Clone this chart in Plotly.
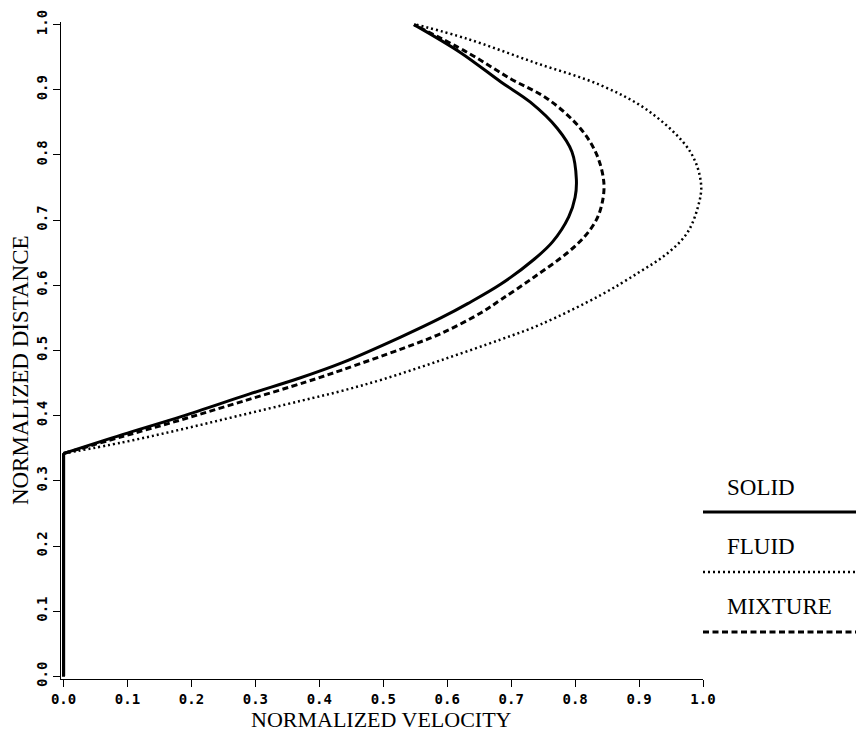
import plotly.graph_objects as go

# ---- data ----
solid_x = [0.0, 0.0, 0.092, 0.185, 0.29, 0.367, 0.435, 0.528, 0.590, 0.632, 0.684,
           0.736, 0.765, 0.790, 0.800, 0.802, 0.795, 0.772, 0.730, 0.684, 0.621, 0.548]
solid_y = [0.0, 0.342, 0.371, 0.399, 0.433, 0.457, 0.481, 0.521, 0.550, 0.572, 0.602,
           0.640, 0.667, 0.705, 0.735, 0.762, 0.805, 0.841, 0.881, 0.912, 0.957, 1.0]

mixture_x = [0.0, 0.0, 0.092, 0.185, 0.28, 0.38, 0.435, 0.530, 0.590, 0.653, 0.684,
             0.735, 0.788, 0.815, 0.833, 0.842, 0.845, 0.834, 0.808, 0.757, 0.699, 0.632, 0.548]
mixture_y = [0.0, 0.342, 0.368, 0.394, 0.422, 0.452, 0.470, 0.503, 0.526, 0.558, 0.578,
             0.612, 0.650, 0.675, 0.700, 0.725, 0.757, 0.800, 0.841, 0.886, 0.917, 0.957, 1.0]

fluid_x = [0.0, 0.0, 0.092, 0.180, 0.270, 0.372, 0.435, 0.500, 0.590, 0.684, 0.746,
           0.840, 0.900, 0.943, 0.975, 0.992, 0.997, 0.980, 0.917, 0.840, 0.736, 0.632, 0.552]
fluid_y = [0.0, 0.342, 0.359, 0.378, 0.399, 0.423, 0.438, 0.456, 0.485, 0.517, 0.540,
           0.585, 0.620, 0.648, 0.680, 0.720, 0.755, 0.805, 0.866, 0.907, 0.942, 0.978, 1.0]

tick_vals = [0.0, 0.1, 0.2, 0.3, 0.4, 0.5, 0.6, 0.7, 0.8, 0.9, 1.0]
tick_text = ["0.0", "0.1", "0.2", "0.3", "0.4", "0.5", "0.6", "0.7", "0.8", "0.9", "1.0"]

legend_names = ["SOLID", "FLUID", "MIXTURE"]
legend_dashes = ["solid", "2px,3px", "6px,3.5px"]
legend_widths = [3, 2.5, 3]

serif = "Liberation Serif"
tickfont = dict(family="DejaVu Sans Mono", size=14, color="black", weight="bold")

series = [
    ("FLUID", fluid_x, fluid_y, 2.5, "2px,3px"),
    ("MIXTURE", mixture_x, mixture_y, 3, "6px,3.5px"),
    ("SOLID", solid_x, solid_y, 3, "solid"),
]

fig = go.Figure()
for name, xs, ys, w, dash in series:
    # straight part along the wall (up to the corner point, index 1)
    fig.add_trace(go.Scatter(x=xs[:2], y=ys[:2], mode="lines", name=name,
                             line=dict(color="black", width=3)))
    # curved profile from the corner onwards
    fig.add_trace(go.Scatter(x=xs[1:], y=ys[1:], mode="lines", name=name,
                             line=dict(color="black", width=w, dash=dash,
                                       shape="spline", smoothing=1.0)))

# custom legend at right
line_y = [0.254, 0.163, 0.0715]
text_y = [0.292, 0.201, 0.111]
for name, dash, w, ly, ty in zip(legend_names, legend_dashes, legend_widths, line_y, text_y):
    fig.add_shape(type="line", xref="paper", yref="paper", x0=1.0, x1=1.24, y0=ly, y1=ly,
                  line=dict(color="black", width=w, dash=dash))
    fig.add_annotation(xref="paper", yref="paper", x=1.034, y=ty, text=name,
                       showarrow=False, xanchor="left", yanchor="middle",
                       font=dict(family=serif, size=23, color="black"))

# axis titles
fig.add_annotation(xref="paper", yref="paper", x=0.499, y=-0.0609, text="NORMALIZED VELOCITY",
                   showarrow=False, xanchor="center", yanchor="middle",
                   font=dict(family=serif, size=22, color="black"))
fig.add_annotation(xref="paper", yref="paper", x=-0.064, y=0.47, text="NORMALIZED DISTANCE",
                   showarrow=False, xanchor="center", yanchor="middle", textangle=-90,
                   font=dict(family=serif, size=23, color="black"))

axis_common = dict(showgrid=False, zeroline=False, showline=True, linecolor="black",
                   linewidth=1, ticks="outside", ticklen=7, tickwidth=1, tickcolor="black",
                   tickvals=tick_vals, ticktext=tick_text, tickfont=tickfont,
                   automargin=False)

fig.update_layout(
    width=856, height=740,
    margin=dict(l=61, r=153, t=22, b=61, pad=0),
    paper_bgcolor="white", plot_bgcolor="white",
    showlegend=False,
    xaxis=dict(range=[-0.004, 1.0], **axis_common),
    yaxis=dict(range=[-0.004, 1.004], tickangle=-90, **axis_common),
)

fig.write_html("out.html", config={"displayModeBar": False},
               post_script="document.body.style.margin='0px';")
